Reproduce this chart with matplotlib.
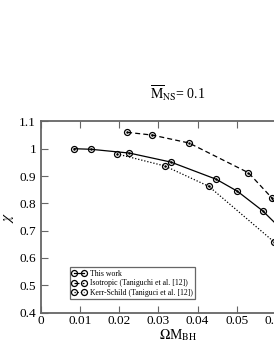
import matplotlib
matplotlib.use("Agg")
import matplotlib.pyplot as plt

# Data
this_x = [0.0085, 0.0127, 0.0226, 0.0332, 0.0448, 0.0502, 0.0566, 0.0625]
this_y = [1.000, 0.998, 0.984, 0.951, 0.888, 0.844, 0.773, 0.690]
iso_x = [0.0220, 0.0284, 0.0378, 0.0530, 0.0589, 0.0640]
iso_y = [1.060, 1.050, 1.021, 0.912, 0.821, 0.700]
ks_x = [0.0194, 0.0316, 0.0429, 0.0596]
ks_y = [0.981, 0.937, 0.862, 0.658]
xticks = [0, 0.01, 0.02, 0.03, 0.04, 0.05, 0.06, 0.07]
xticklabels = ["0", "0.01", "0.02", "0.03", "0.04", "0.05", "0.06", "0.07"]
yticks = [0.4, 0.5, 0.6, 0.7, 0.8, 0.9, 1.0, 1.1]
yticklabels = ["0.4", "0.5", "0.6", "0.7", "0.8", "0.9", "1", "1.1"]
labels = ["This work", "Isotropic (Taniguchi et al. [12])", "Kerr-Schild (Taniguci et al. [12])"]

plt.rcParams['font.family'] = ['Liberation Serif', 'DejaVu Serif']
plt.rcParams['mathtext.fontset'] = 'stix'

fig = plt.figure(figsize=(2.74, 3.54), dpi=100)
W, H = 274, 354
left, right, top, bottom = 41, 315, 121.4, 312.6
ax = fig.add_axes([left / W, 1 - bottom / H, (right - left) / W, (bottom - top) / H])

mk = dict(marker='o', markersize=4.3, markerfacecolor='none', markeredgecolor='black', markeredgewidth=0.9, color='black')
ax.plot(this_x, this_y, linestyle='-', linewidth=0.9, label=labels[0], **mk)
ax.plot(iso_x, iso_y, linestyle=(0, (4, 2.5)), linewidth=0.9, label=labels[1], **mk)
ax.plot(ks_x, ks_y, linestyle=(0, (1, 1.5)), linewidth=0.9, label=labels[2], **mk)
# central dots
for xs, ys in [(this_x, this_y), (iso_x, iso_y), (ks_x, ks_y)]:
    ax.plot(xs, ys, linestyle='none', marker='o', markersize=0.8, color='black')

ax.set_xlim(0, 0.07)
ax.set_ylim(0.4, 1.1)
ax.set_xticks(xticks)
ax.set_xticklabels(xticklabels)
ax.set_yticks(yticks)
ax.set_yticklabels(yticklabels)
ax.tick_params(direction='in', length=5, width=0.8, labelsize=9.5, top=True, right=True, color='0.4')
ax.tick_params(axis='x', pad=2)
for s in ax.spines.values():
    s.set_color('0.4')
    s.set_linewidth(1.3)

ax.set_xlabel(r'$\Omega$M$_{\rm BH}$', fontsize=10, labelpad=0)
ax.set_ylabel(r'$\chi$', fontsize=11, labelpad=2)
ax.set_title(r'$\overline{\rm M}_{\rm NS}$= 0.1', fontsize=10, pad=16)

leg = ax.legend(loc='lower left', bbox_to_anchor=(0.09, 0.05), fontsize=5.6, handlelength=1.9,
                numpoints=2, borderpad=0.3, labelspacing=0.2, handletextpad=0.4,
                fancybox=False, framealpha=1)
leg.get_frame().set_edgecolor('0.4')
leg.get_frame().set_linewidth(0.9)

fig.savefig('out.png', dpi=100)
